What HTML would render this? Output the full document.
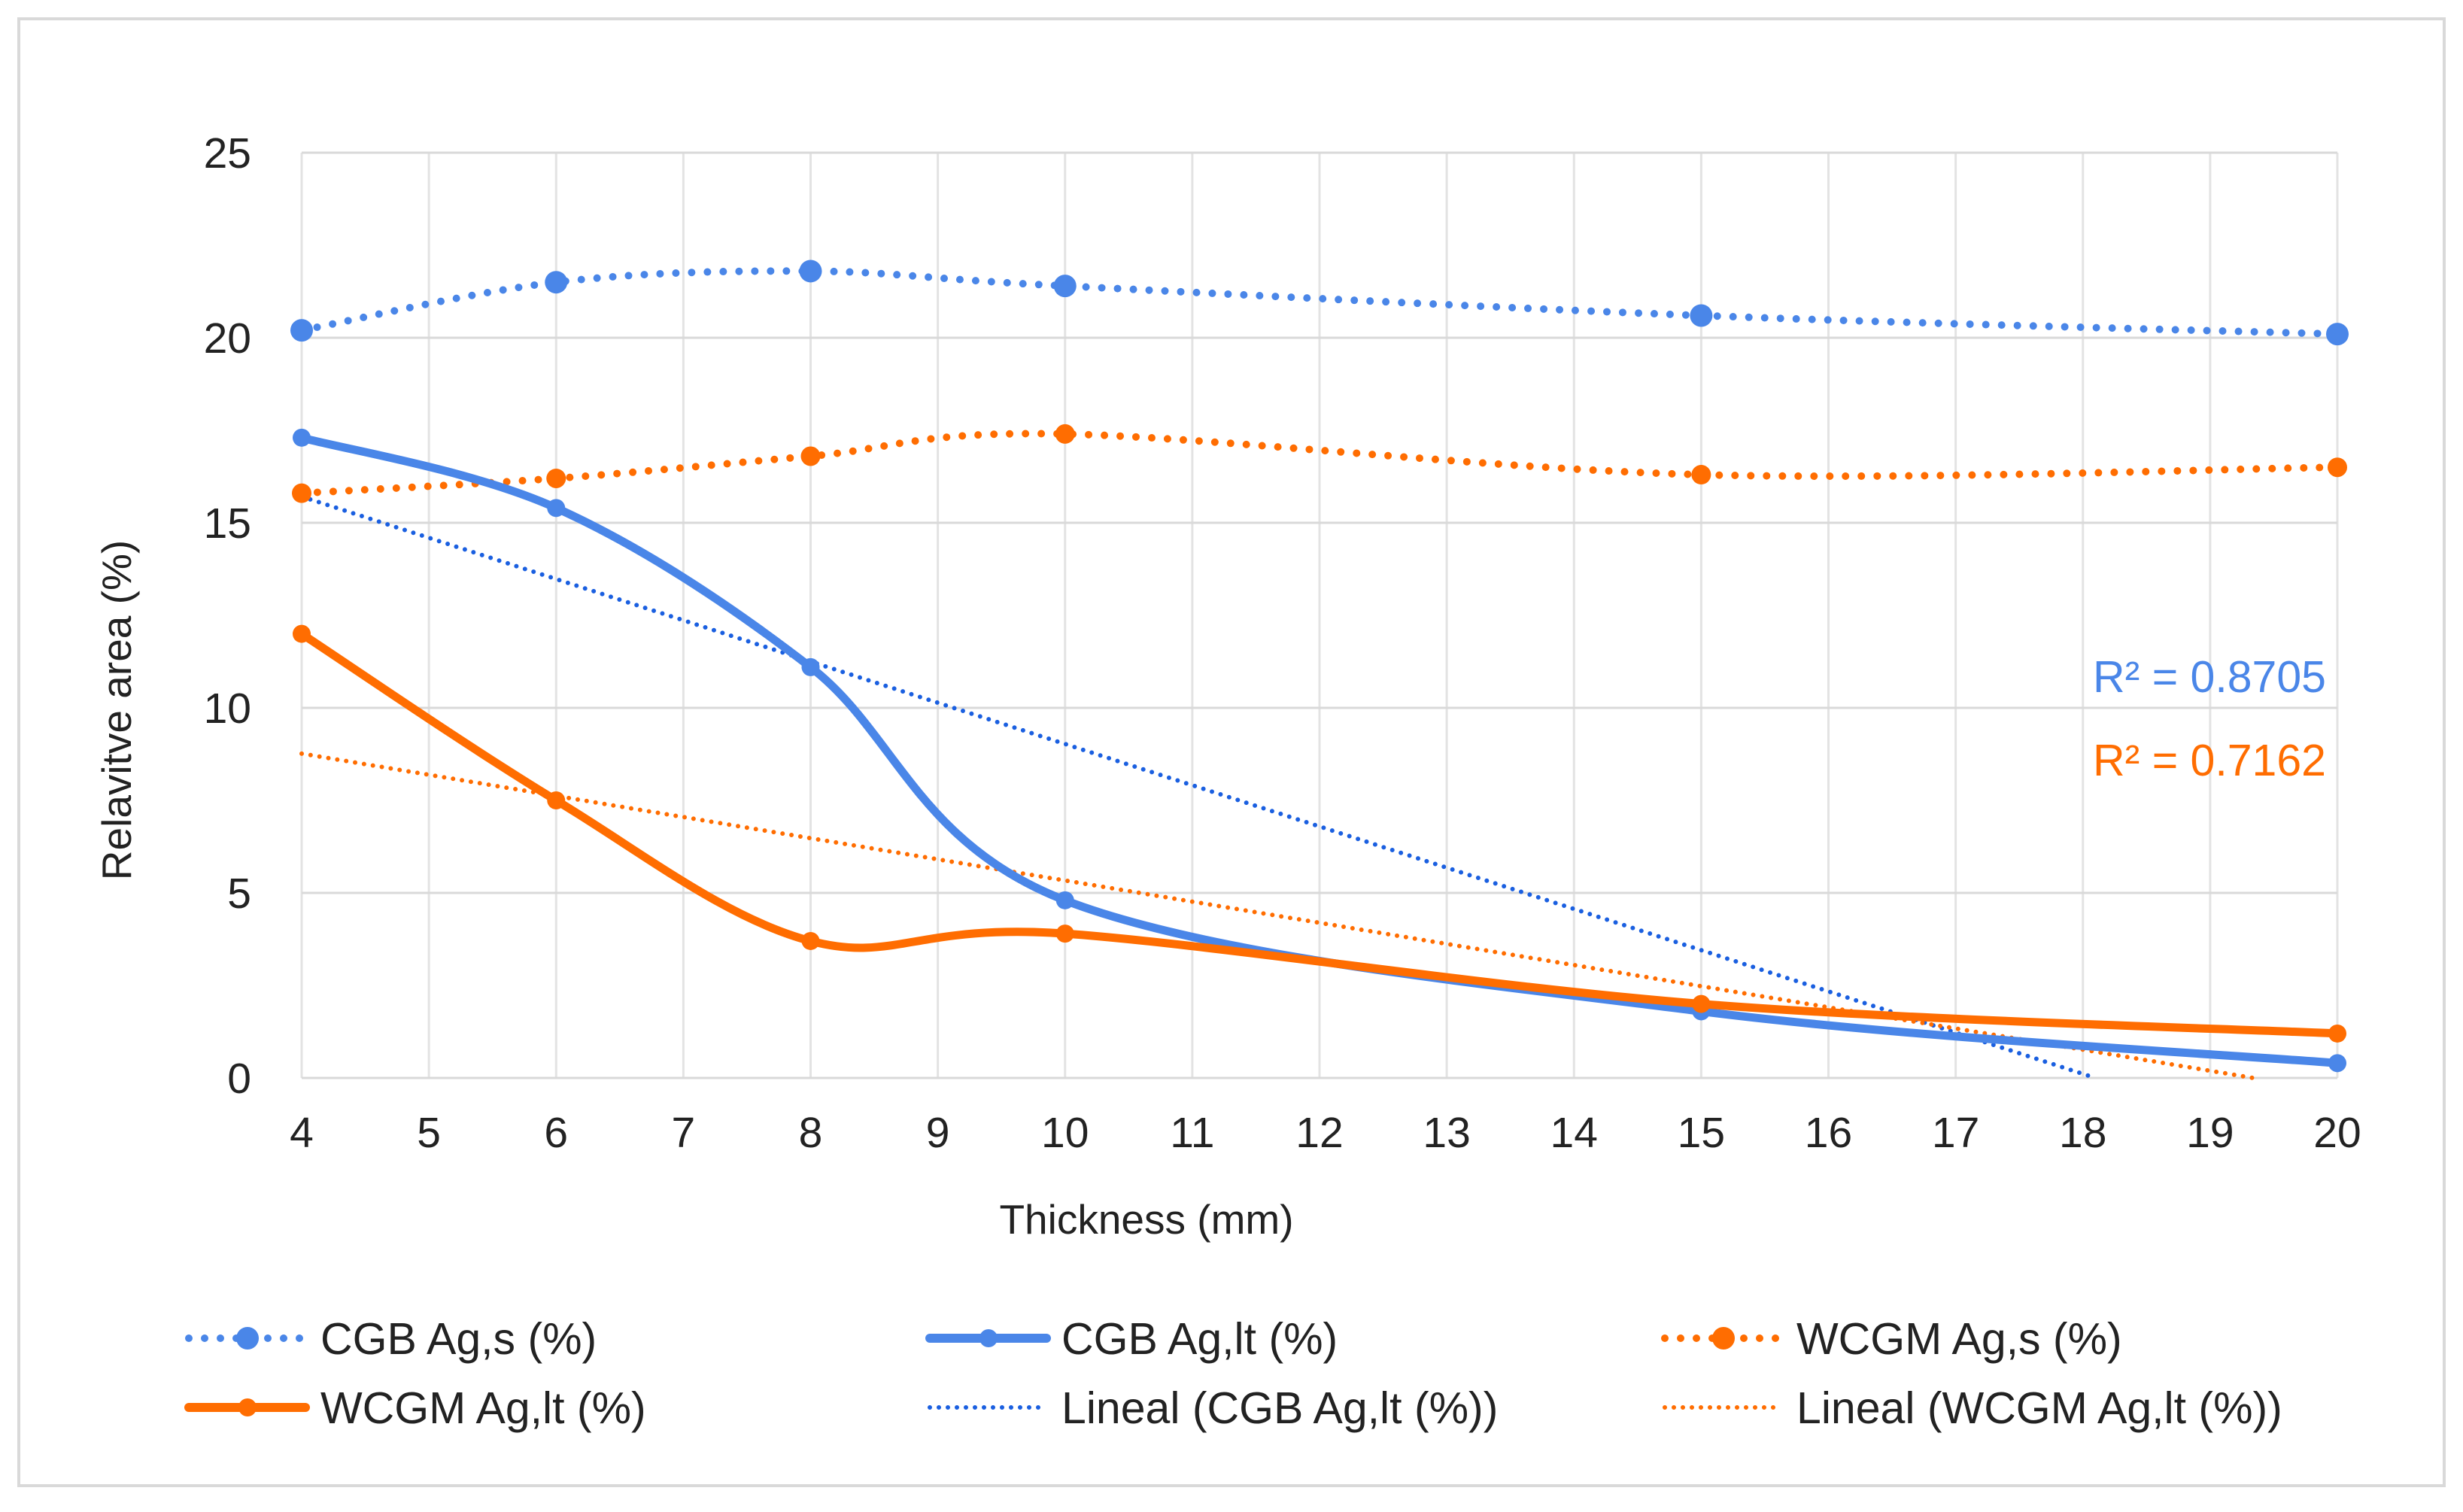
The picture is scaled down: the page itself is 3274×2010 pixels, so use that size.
<!DOCTYPE html>
<html><head><meta charset="utf-8"><style>
html,body{margin:0;padding:0;background:#fff}
svg{display:block;font-family:"Liberation Sans",Arial,sans-serif}
</style></head><body>
<svg id="chart" width="3274" height="2010" viewBox="0 0 3274 2010" xmlns="http://www.w3.org/2000/svg">
<rect x="25" y="25" width="3224" height="1950" fill="#fff" stroke="#d9d9d9" stroke-width="4"/>
<g id="grid"></g>
<g id="ticks"></g>
<g id="series"></g>
<text x="1524" y="1640" font-size="55" text-anchor="middle" fill="#222">Thickness (mm)</text>
<text transform="translate(174,944) rotate(-90)" font-size="55" text-anchor="middle" fill="#222">Relavitve area (%)</text>
<text x="3092" y="920" font-size="59" text-anchor="end" fill="#4a86e8">R² = 0.8705</text>
<text x="3092" y="1031" font-size="59" text-anchor="end" fill="#ff6d01">R² = 0.7162</text>
<g id="legend"></g>
</svg>
<script>
const xValues = [4, 6, 8, 10, 15, 20];
const cgbS = [20.2, 21.5, 21.8, 21.4, 20.6, 20.1];
const cgbLt = [17.3, 15.4, 11.1, 4.8, 1.8, 0.4];
const wcgmS = [15.8, 16.2, 16.8, 17.4, 16.3, 16.5];
const wcgmLt = [12.0, 7.5, 3.7, 3.9, 2.0, 1.2];
const xTicks = [4,5,6,7,8,9,10,11,12,13,14,15,16,17,18,19,20];
const yTicks = [0,5,10,15,20,25];

const NS = "http://www.w3.org/2000/svg";
const L = 401, R = 3107, T = 203, B = 1433;
const xs = v => L + (v - 4) / 16 * (R - L);
const ys = v => B - v / 25 * (B - T);
function mk(tag, attrs, parent) {
  const e = document.createElementNS(NS, tag);
  for (const k in attrs) e.setAttribute(k, attrs[k]);
  parent.appendChild(e);
  return e;
}
const grid = document.getElementById('grid');
const ticks = document.getElementById('ticks');
xTicks.forEach(t => {
  const l = mk('line', {x1: xs(t), x2: xs(t), y1: T, y2: B, stroke: '#e3e3e3', 'stroke-width': 3}, grid);
  
  
  const tx = mk('text', {x: xs(t), y: B + 92, 'font-size': 57, 'text-anchor': 'middle', fill: '#222'}, ticks);
  tx.textContent = t;
  
  
});
yTicks.forEach(t => {
  const l = mk('line', {x1: L, x2: R, y1: ys(t), y2: ys(t), stroke: '#d9d9d9', 'stroke-width': 3}, grid);
  
  
  const tx = mk('text', {x: 334, y: ys(t) + 20, 'font-size': 57, 'text-anchor': 'end', fill: '#222'}, ticks);
  tx.textContent = t;
  
  
});
function smoothPath(ys_) {
  const p = xValues.map((x, i) => [xs(x), ys(ys_[i])]);
  let d = 'M' + p[0][0] + ',' + p[0][1];
  for (let i = 0; i < p.length - 1; i++) {
    const p0 = p[i - 1] || p[i], p1 = p[i], p2 = p[i + 1], p3 = p[i + 2] || p[i + 1];
    const c1 = [p1[0] + (p2[0] - p0[0]) / 6, p1[1] + (p2[1] - p0[1]) / 6];
    const c2 = [p2[0] - (p3[0] - p1[0]) / 6, p2[1] - (p3[1] - p1[1]) / 6];
    d += ' C' + c1 + ' ' + c2 + ' ' + p2;
  }
  return d;
}
const S = document.getElementById('series');
function trend(vals, color, name) {
  const n = xValues.length;
  const mx = xValues.reduce((a, b) => a + b) / n, my = vals.reduce((a, b) => a + b) / n;
  let sxy = 0, sxx = 0;
  xValues.forEach((x, i) => { sxy += (x - mx) * (vals[i] - my); sxx += (x - mx) * (x - mx); });
  const m = sxy / sxx, b = my - m * mx;
  let x2 = 20, y2 = m * 20 + b;
  if (y2 < 0) { x2 = -b / m; y2 = 0; }
  const l = mk('line', {x1: xs(4), y1: ys(m * 4 + b), x2: xs(x2), y2: ys(y2), stroke: color, 'stroke-width': 6, 'stroke-dasharray': '0 12', 'stroke-linecap': 'round'}, S);
  
  
}
function series(vals, color, dotted, r, name) {
  const attrs = {d: smoothPath(vals), fill: 'none', stroke: color, 'stroke-width': dotted ? 10 : 11, 'stroke-linecap': 'round'};
  if (dotted) attrs['stroke-dasharray'] = '0 21';
  const p = mk('path', attrs, S);
  
  
  vals.forEach((v, i) => {
    const c = mk('circle', {cx: xs(xValues[i]), cy: ys(v), r: r, fill: color}, S);
    
    
  });
}
const BLUE = '#4a86e8', ORANGE = '#ff6d01', TBLUE = '#1a5fe0';
trend(cgbLt, TBLUE, 'trendline-cgb-lt');
trend(wcgmLt, ORANGE, 'trendline-wcgm-lt');
series(cgbS, BLUE, true, 15, 'cgb-ag-s');
series(wcgmS, ORANGE, true, 13, 'wcgm-ag-s');
series(cgbLt, BLUE, false, 12, 'cgb-ag-lt');
series(wcgmLt, ORANGE, false, 12, 'wcgm-ag-lt');

const leg = document.getElementById('legend');
const items = [
  ['CGB Ag,s (%)', BLUE, 'dots', 251, 1779],
  ['CGB Ag,lt (%)', BLUE, 'solid', 1236, 1779],
  ['WCGM Ag,s (%)', ORANGE, 'dots', 2213, 1779],
  ['WCGM Ag,lt (%)', ORANGE, 'solid', 251, 1871],
  ['Lineal (CGB Ag,lt (%))', TBLUE, 'trend', 1236, 1871],
  ['Lineal (WCGM Ag,lt (%))', ORANGE, 'trend', 2213, 1871]
];
items.forEach(it => {
  const [label, color, kind, x, y] = it;
  const g = mk('g', {}, leg);
  
  
  if (kind === 'dots') {
    mk('line', {x1: x, x2: x + 155, y1: y, y2: y, stroke: color, 'stroke-width': 10, 'stroke-dasharray': '0 21', 'stroke-linecap': 'round'}, g);
    mk('circle', {cx: x + 78, cy: y, r: 15, fill: color}, g);
  } else if (kind === 'solid') {
    mk('line', {x1: x, x2: x + 155, y1: y, y2: y, stroke: color, 'stroke-width': 12, 'stroke-linecap': 'round'}, g);
    mk('circle', {cx: x + 78, cy: y, r: 12, fill: color}, g);
  } else {
    mk('line', {x1: x, x2: x + 155, y1: y, y2: y, stroke: color, 'stroke-width': 6, 'stroke-dasharray': '0 12', 'stroke-linecap': 'round'}, g);
  }
  const t = mk('text', {x: x + 175, y: y + 21, 'font-size': 59, fill: '#222'}, g);
  t.textContent = label;
});
</script>
</body></html>
